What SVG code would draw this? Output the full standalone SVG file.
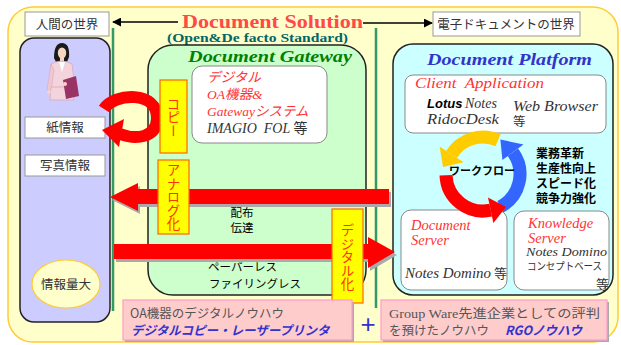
<svg xmlns="http://www.w3.org/2000/svg" width="621" height="345" viewBox="0 0 621 345">
  <defs>
    <marker id="ah" viewBox="0 0 10 10" refX="9" refY="5" markerWidth="9" markerHeight="9" markerUnits="userSpaceOnUse" orient="auto">
      <path d="M0,0 L10,5 L0,10 Z" fill="#000"/>
    </marker>
    <!-- broad red arrows, reused for their grey drop shadows -->
    <polygon id="arrowLeft" points="389,189 138,189 138,183 110,197 138,211 138,204 389,204"/>
    <polygon id="arrowRight" points="114,244 368,244 368,237 395,252 368,268 368,259 114,259"/>
  </defs>
  <style>
    .jp { font-family: "Noto Sans CJK JP", sans-serif; }
    .lbl { fill: #fff; stroke: #999; stroke-width: 1; }
    .lbltxt { font-family: "Noto Sans CJK JP", sans-serif; font-size: 12.5px; fill: #333; text-anchor: middle; }
    .panel { stroke: #222; stroke-width: 1.5; }
    .card { fill: #fff; stroke: #888; stroke-width: 1; }
    .ser { font-family: "Liberation Serif", "Noto Sans CJK JP", serif; }
    .it { font-style: italic; }
    .red { fill: #ff3333; }
    .gry { fill: #333; }
    .tag { fill: #ffff00; stroke: #ff6600; stroke-width: 1.2; }
    .tagtxt { font-family: "Noto Sans CJK JP", sans-serif; font-size: 13.5px; fill: #ff3300; writing-mode: vertical-rl; text-anchor: middle; }
    .green { stroke: #339966; stroke-width: 2.5; }
    .pink { fill: #ffcccc; stroke: #ff99cc; stroke-width: 1.2; }
    .shadow { fill: #aaa; }
    .bold { font-weight: bold; }
    .blue { fill: #3333cc; }
  </style>

  <!-- background frame -->
  <rect x="8" y="7" width="610" height="335" rx="25" fill="#ffffcc" stroke="#ffcc33" stroke-width="1.5"/>

  <!-- dividing lines between the two worlds -->
  <line class="green" x1="113" y1="28" x2="113" y2="311"/>
  <line class="green" x1="376" y1="28" x2="376" y2="308"/>

  <!-- title -->
  <g id="title">
    <text x="182" y="28" class="ser bold" font-size="19.5" fill="#ff4848" textLength="181" lengthAdjust="spacingAndGlyphs">Document Solution</text>
    <text x="167" y="42" class="ser bold" font-size="12.5" fill="#006666" textLength="181" lengthAdjust="spacingAndGlyphs">(Open&amp;De facto Standard)</text>
  </g>

  <g id="human-world-label">
    <rect class="lbl" x="25" y="12" width="84" height="24"/>
    <text class="lbltxt" x="67" y="29" font-size="13">人間の世界</text>
  </g>
  <g id="digital-world-label">
    <rect class="lbl" x="433" y="12" width="147" height="24"/>
    <text class="lbltxt" x="506" y="29">電子ドキュメントの世界</text>
  </g>

  <!-- human side -->
  <g id="human-panel">
    <rect class="panel" x="20" y="38" width="90" height="284" rx="14" fill="#ccccff" stroke="#444"/>
    <g id="person">
      <path d="M54,58 Q54,43 62,43 Q70,43 69,57 L67,62 L56,62 Z" fill="#1a1a1a"/>
      <ellipse cx="62" cy="53" rx="4.2" ry="5.5" fill="#f6d6c2"/>
      <rect x="60" y="57" width="4" height="5" fill="#f6d6c2"/>
      <path d="M51,64 Q62,58 72,64 L75,88 L49,88 Z" fill="#f3d3dc" stroke="#d9a9b9" stroke-width="0.8"/>
      <path d="M59,62 L62,72 L65,62 Z" fill="#fff"/>
      <path d="M51,64 L47,90 L51,91 L54,70 Z" fill="#efc7d2" stroke="#d9a9b9" stroke-width="0.6"/>
      <path d="M51,87 L72,87 L74,100 L50,100 Z" fill="#f3d3dc" stroke="#d9a9b9" stroke-width="0.8"/>
      <circle cx="49" cy="92" r="2" fill="#f6d6c2"/>
      <polygon points="63,80 76,76 79,96 66,99" fill="#993366"/>
      <circle cx="65" cy="84" r="2" fill="#f6d6c2"/>
    </g>
  </g>
  <g id="paper-info">
    <rect class="lbl" x="25" y="117" width="80" height="21" stroke="#666688"/>
    <text class="lbltxt" x="65" y="132">紙情報</text>
  </g>
  <g id="photo-info">
    <rect class="lbl" x="25" y="155" width="80" height="21" stroke="#666688"/>
    <text class="lbltxt" x="65" y="170">写真情報</text>
  </g>
  <g id="info-volume">
    <ellipse cx="66" cy="284" rx="34" ry="24" fill="#ffffcc" stroke="#ffcc33" stroke-width="1.2"/>
    <text class="lbltxt" x="66" y="289">情報量大</text>
  </g>

  <!-- gateway -->
  <g id="gateway">
    <rect class="panel" x="148" y="45" width="218" height="250" rx="25" fill="#ccffcc"/>
    <text x="188" y="62" class="ser bold it" font-size="16.5" fill="#008000" textLength="164" lengthAdjust="spacingAndGlyphs">Document Gateway</text>
    <rect class="card" x="192" y="66" width="135" height="77" rx="10"/>
    <text class="ser it red" font-size="13.5" x="207" y="82">デジタル</text>
    <text class="ser it red" font-size="13.5" x="207" y="99">OA機器&amp;</text>
    <text class="ser it red" font-size="13.5" x="207" y="116">Gatewayシステム</text>
    <text class="ser it gry" font-size="14" x="207" y="133" xml:space="preserve">IMAGIO  FOL <tspan font-style="normal">等</tspan></text>
    <text class="jp" font-size="11.5" x="242" y="217" text-anchor="middle">配布</text>
    <text class="jp" font-size="11.5" x="242" y="232" text-anchor="middle">伝達</text>
    <text class="jp" font-size="11.5" x="208" y="271">ペーパーレス</text>
    <text class="jp" font-size="11.5" x="209" y="288">ファイリングレス</text>
  </g>

  <!-- platform -->
  <g id="platform">
    <rect class="panel" x="393" y="44" width="220" height="251" rx="20" fill="#ccffff"/>
    <text x="427" y="65" class="ser bold it" font-size="17" fill="#3333cc" textLength="165" lengthAdjust="spacingAndGlyphs">Document Platform</text>
  </g>
  <g id="client-app">
    <rect class="card" x="405" y="75" width="201" height="58" rx="8"/>
    <text class="ser it red" font-size="14.5" x="415" y="88" xml:space="preserve" textLength="129" lengthAdjust="spacingAndGlyphs">Client  Application</text>
    <text x="427" y="108" font-family="Liberation Sans, sans-serif" font-weight="bold" font-style="italic" font-size="13" fill="#000">Lotus</text>
    <text class="ser it gry" font-size="14" x="465" y="108">Notes</text>
    <text class="ser it gry" font-size="14" x="513" y="111" textLength="85" lengthAdjust="spacingAndGlyphs">Web Browser</text>
    <text class="ser it gry" font-size="14.5" x="427" y="124" textLength="72" lengthAdjust="spacingAndGlyphs">RidocDesk</text>
    <text class="jp gry" font-size="12.5" x="513" y="126">等</text>
  </g>
  <g id="benefits">
    <text class="jp bold" font-size="12" x="536" y="158">業務革新</text>
    <text class="jp bold" font-size="12" x="536" y="173">生産性向上</text>
    <text class="jp bold" font-size="12" x="536" y="188">スピード化</text>
    <text class="jp bold" font-size="12" x="536" y="203">競争力強化</text>
  </g>
  <g id="document-server">
    <rect class="card" x="401" y="210" width="106" height="80" rx="10"/>
    <text class="ser it red" font-size="14.5" x="411" y="230">Document</text>
    <text class="ser it red" font-size="14.5" x="411" y="245">Server</text>
    <text class="ser it gry" font-size="14" x="405" y="278" textLength="86" lengthAdjust="spacingAndGlyphs">Notes Domino</text>
    <text class="jp gry" font-size="13" x="494" y="278">等</text>
  </g>
  <g id="knowledge-server">
    <rect class="card" x="514" y="211" width="95" height="79" rx="10"/>
    <text class="ser it red" font-size="14.5" x="528" y="228">Knowledge</text>
    <text class="ser it red" font-size="14.5" x="528" y="243">Server</text>
    <text class="ser it gry" font-size="13.5" x="526" y="256" textLength="81" lengthAdjust="spacingAndGlyphs">Notes Domino</text>
    <text class="jp gry" font-size="10.5" x="527" y="270" textLength="75" lengthAdjust="spacingAndGlyphs">コンセプトベース</text>
    <text class="jp gry" font-size="13" x="596" y="289">等</text>
  </g>

  <!-- connectors -->
  <g id="connectors">
    <line x1="178" y1="22" x2="113" y2="22" stroke="#000" stroke-width="1.5" marker-end="url(#ah)"/>
    <line x1="363" y1="23" x2="432" y2="23" stroke="#000" stroke-width="1.5" marker-end="url(#ah)"/>

    <!-- copy loop back to paper -->
    <path d="M104,109 C114,93 158,90 157,119 C156,138 136,140 120,134" fill="none" stroke="#ff0000" stroke-width="12"/>
    <polygon points="102,130 124,119 119,147" fill="#ff0000"/>

    <!-- analog output and digital input -->
    <use href="#arrowLeft" class="shadow" transform="translate(2,3)"/>
    <use href="#arrowLeft" fill="#ff0000"/>
    <use href="#arrowRight" class="shadow" transform="translate(2,3)"/>
    <use href="#arrowRight" fill="#ff0000"/>

    <!-- workflow cycle -->
    <path d="M500.4,206.7 A37,37 0 0 0 512.9,152.3" fill="none" stroke="#3366ff" stroke-width="13"/>
    <polygon points="502.4,159.9 523.5,144.6 500.4,139.5" fill="#3366ff"/>
    <path d="M498.0,140.2 A37,37 0 0 0 451.6,154.4" fill="none" stroke="#ffcc00" stroke-width="13"/>
    <polygon points="463.6,162.3 439.6,146.5 443.0,167.0" fill="#ffcc00"/>
    <path d="M446.0,175.3 A37,37 0 0 0 490.7,210.2" fill="none" stroke="#ff0000" stroke-width="13"/>
    <polygon points="488.0,197.5 493.4,222.9 506.0,207.0" fill="#ff0000"/>
  </g>
  <text class="jp bold" font-size="11" x="482" y="175" text-anchor="middle">ワークフロー</text>

  <!-- process tags -->
  <g id="copy-tag">
    <rect class="tag" x="160" y="80" width="27" height="73"/>
    <text class="tagtxt" x="173.5" y="117">コピー</text>
  </g>
  <g id="analog-tag">
    <rect class="tag" x="158" y="160" width="31" height="74"/>
    <text class="tagtxt" x="173.5" y="197" font-size="14.5">アナログ化</text>
  </g>
  <g id="digital-tag">
    <rect class="tag" x="332" y="209" width="31" height="94"/>
    <text class="tagtxt" x="347.5" y="257" font-size="14.5">デジタル化</text>
  </g>

  <!-- know-how notes -->
  <g id="oa-knowhow">
    <rect class="shadow" x="125" y="302" width="229" height="40"/>
    <rect class="pink" x="123" y="300" width="229" height="40"/>
    <text class="jp" font-size="12.5" fill="#555" x="130" y="318">OA機器のデジタルノウハウ</text>
    <text class="jp bold it blue" font-size="12.5" x="131" y="335">デジタルコピー・レーザープリンタ</text>
  </g>
  <text x="368" y="333" font-family="Liberation Sans, sans-serif" font-size="26" fill="#3333cc" text-anchor="middle">+</text>
  <g id="rgo-knowhow">
    <rect class="shadow" x="383" y="302" width="226" height="40"/>
    <rect class="pink" x="381" y="300" width="226" height="40"/>
    <text class="ser" font-size="12.5" fill="#555" x="389" y="318" textLength="211" lengthAdjust="spacingAndGlyphs">Group Ware先進企業としての評判</text>
    <text class="jp" font-size="12.5" fill="#555" x="389" y="335">を預けたノウハウ</text>
    <text class="jp bold it blue" font-size="12.5" x="505" y="335">RGOノウハウ</text>
  </g>
</svg>
